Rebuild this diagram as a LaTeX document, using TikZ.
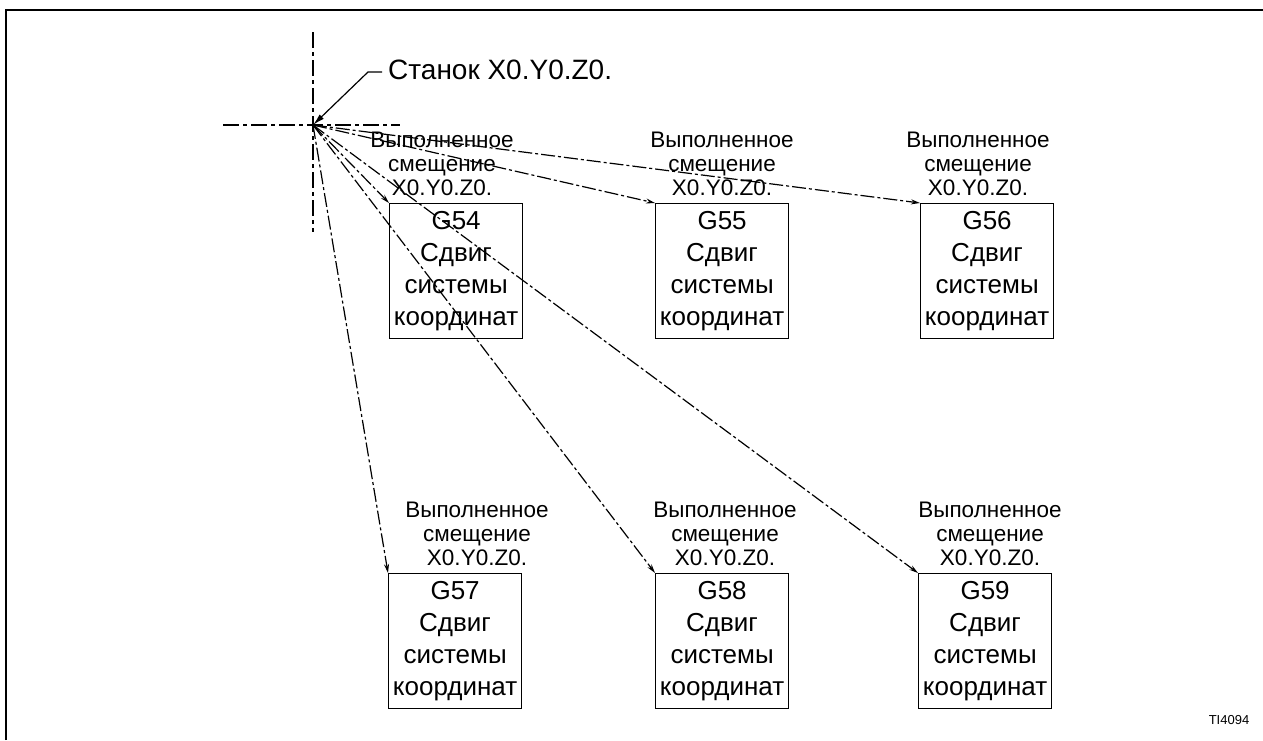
\documentclass[tikz,border=0pt]{standalone}
\usepackage{fontspec}
\setmainfont{Liberation Sans}
\usetikzlibrary{arrows.meta}
\begin{document}
\begin{tikzpicture}[x=1pt,y=-1pt,
  boxnode/.style={draw, line width=1.2pt, minimum width=133pt, minimum height=135pt, inner sep=0pt, anchor=north west, align=center, font=\fontsize{26}{32}\selectfont},
  lbl/.style={anchor=south, inner sep=0pt, align=center, font=\fontsize{22.5}{24}\selectfont},
  conn/.style={line width=1.2pt, dash pattern=on 14pt off 3pt on 3pt off 3pt, -{Stealth[length=9pt,width=5pt]}},
  axisline/.style={line width=1.2pt, dash pattern=on 16pt off 4pt on 4pt off 4pt},
]
\useasboundingbox (0,0) rectangle (1263,740);
\fill[white] (0,0) rectangle (1263,740);
\draw[line width=2.8pt] (6,740) -- (6,10) -- (1263,10);

\coordinate (O) at (313,125);
\draw[axisline] (313,32) -- (313,232);
\draw[axisline] (223,125) -- (400,125);

\node[boxnode] (g54) at (389,203) {G54\\Сдвиг\\системы\\координат};
\node[boxnode] (g55) at (655,203) {G55\\Сдвиг\\системы\\координат};
\node[boxnode] (g56) at (920,203) {G56\\Сдвиг\\системы\\координат};
\node[boxnode] (g57) at (388,573) {G57\\Сдвиг\\системы\\координат};
\node[boxnode] (g58) at (655,573) {G58\\Сдвиг\\системы\\координат};
\node[boxnode] (g59) at (918,573) {G59\\Сдвиг\\системы\\координат};

\node[lbl] (l54) at (442,196) {Выполненное\\смещение\\X0.Y0.Z0.};
\node[lbl] (l55) at (722,196) {Выполненное\\смещение\\X0.Y0.Z0.};
\node[lbl] (l56) at (978,196) {Выполненное\\смещение\\X0.Y0.Z0.};
\node[lbl] (l57) at (477,566) {Выполненное\\смещение\\X0.Y0.Z0.};
\node[lbl] (l58) at (725,566) {Выполненное\\смещение\\X0.Y0.Z0.};
\node[lbl] (l59) at (990,566) {Выполненное\\смещение\\X0.Y0.Z0.};

\draw[conn] (O) -- (g54.north west);
\draw[conn] (O) -- (g55.north west);
\draw[conn] (O) -- (g56.north west);
\draw[conn] (O) -- (g57.north west);
\draw[conn] (O) -- (g58.north west);
\draw[conn] (O) -- (g59.north west);

\node[anchor=west, inner sep=0pt, font=\fontsize{28}{30}\selectfont] (st) at (388,70) {Станок X0.Y0.Z0.};
\draw[line width=1.2pt, -{Latex[length=12pt,width=6pt]}] ([xshift=-6pt,yshift=-2pt]st.west) -- ++(-14,0) -- (O);

\node[inner sep=0pt, font=\fontsize{13}{14}\selectfont] (ti) at (1229,720) {TI4094};
\end{tikzpicture}
\end{document}
